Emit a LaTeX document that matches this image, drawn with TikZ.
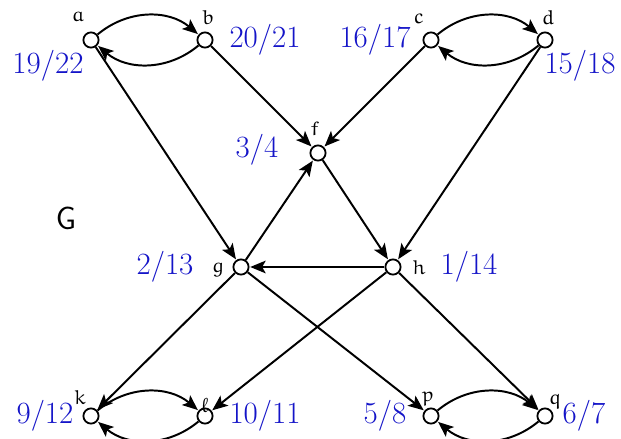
\documentclass[tikz,border=0pt]{standalone}
\usetikzlibrary{arrows.meta}

\newcommand{\eul}[1]{{\usefont{U}{eur}{m}{n}#1}}

\begin{document}
\begin{tikzpicture}[x=0.025cm,y=-0.025cm,
  vert/.style={draw,circle,line width=1.3pt,inner sep=0pt,minimum size=0.38cm,fill=white},
  edge/.style={-{Stealth[length=11pt,width=9pt,inset=2.5pt]},line width=1.4pt,shorten >=0.5pt},
  nr/.style={text=numblue,font=\fontsize{22}{26}\selectfont,inner sep=0pt},
  nm/.style={font=\Large,inner sep=0pt}]

\definecolor{numblue}{RGB}{20,20,200};

\useasboundingbox (0,0) rectangle (621,439);

% vertices
\node[vert] (a) at (91,40)  {};
\node[vert] (b) at (205,40) {};
\node[vert] (c) at (431,40) {};
\node[vert] (d) at (545,40) {};
\node[vert] (f) at (318,153) {};
\node[vert] (g) at (241,267) {};
\node[vert] (h) at (393,267) {};
\node[vert] (k) at (91,416) {};
\node[vert] (l) at (205,416) {};
\node[vert] (p) at (431,416) {};
\node[vert] (q) at (545,416) {};

% names
\node[nm] (na) at (78,17)   {\eul{a}};
\node[nm] (nb) at (208,18)  {\eul{b}};
\node[nm] (nc) at (419,19)  {\eul{c}};
\node[nm] (nd) at (548,18)  {\eul{d}};
\node[nm] (nf) at (315,129) {\eul{f}};
\node[nm] (ng) at (218,270) {\eul{g}};
\node[nm] (nh) at (419,268) {\eul{h}};
\node[nm] (nk) at (80,398)  {\eul{k}};
\node[nm] (nl) at (205,406) {\eul{\symbol{96}}};
\node[nm] (np) at (428,399) {\eul{p}};
\node[nm] (nq) at (555,402) {\eul{q}};

% times
\node[nr] (ta) at (48,66)   {19/22};
\node[nr] (tb) at (265,40)  {20/21};
\node[nr] (tc) at (375,40)  {16/17};
\node[nr] (td) at (580,66)  {15/18};
\node[nr] (tf) at (257,150) {3/4};
\node[nr] (tg) at (165,267) {2/13};
\node[nr] (th) at (469,267) {1/14};
\node[nr] (tk) at (45,416)  {9/12};
\node[nr] (tl) at (265,416) {10/11};
\node[nr] (tp) at (385,416) {5/8};
\node[nr] (tq) at (584,416) {6/7};

\node[font=\fontsize{23}{28}\selectfont\sffamily] (G) at (66,218) {G};

% edges
\draw[edge] (a) to[bend left=40] (b);
\draw[edge] (b) to[bend left=40] (a);
\draw[edge] (c) to[bend left=40] (d);
\draw[edge] (d) to[bend left=40] (c);
\draw[edge] (k) to[bend left=40] (l);
\draw[edge] (l) to[bend left=40] (k);
\draw[edge] (p) to[bend left=40] (q);
\draw[edge] (q) to[bend left=40] (p);

\draw[edge] (a) -- (g);
\draw[edge] (b) -- (f);
\draw[edge] (c) -- (f);
\draw[edge] (d) -- (h);
\draw[edge] (f) -- (h);
\draw[edge] (g) -- (f);
\draw[edge] (h) -- (g);
\draw[edge] (g) -- (k);
\draw[edge] (g) -- (p);
\draw[edge] (h) -- (l);
\draw[edge] (h) -- (q);

\end{tikzpicture}
\end{document}
